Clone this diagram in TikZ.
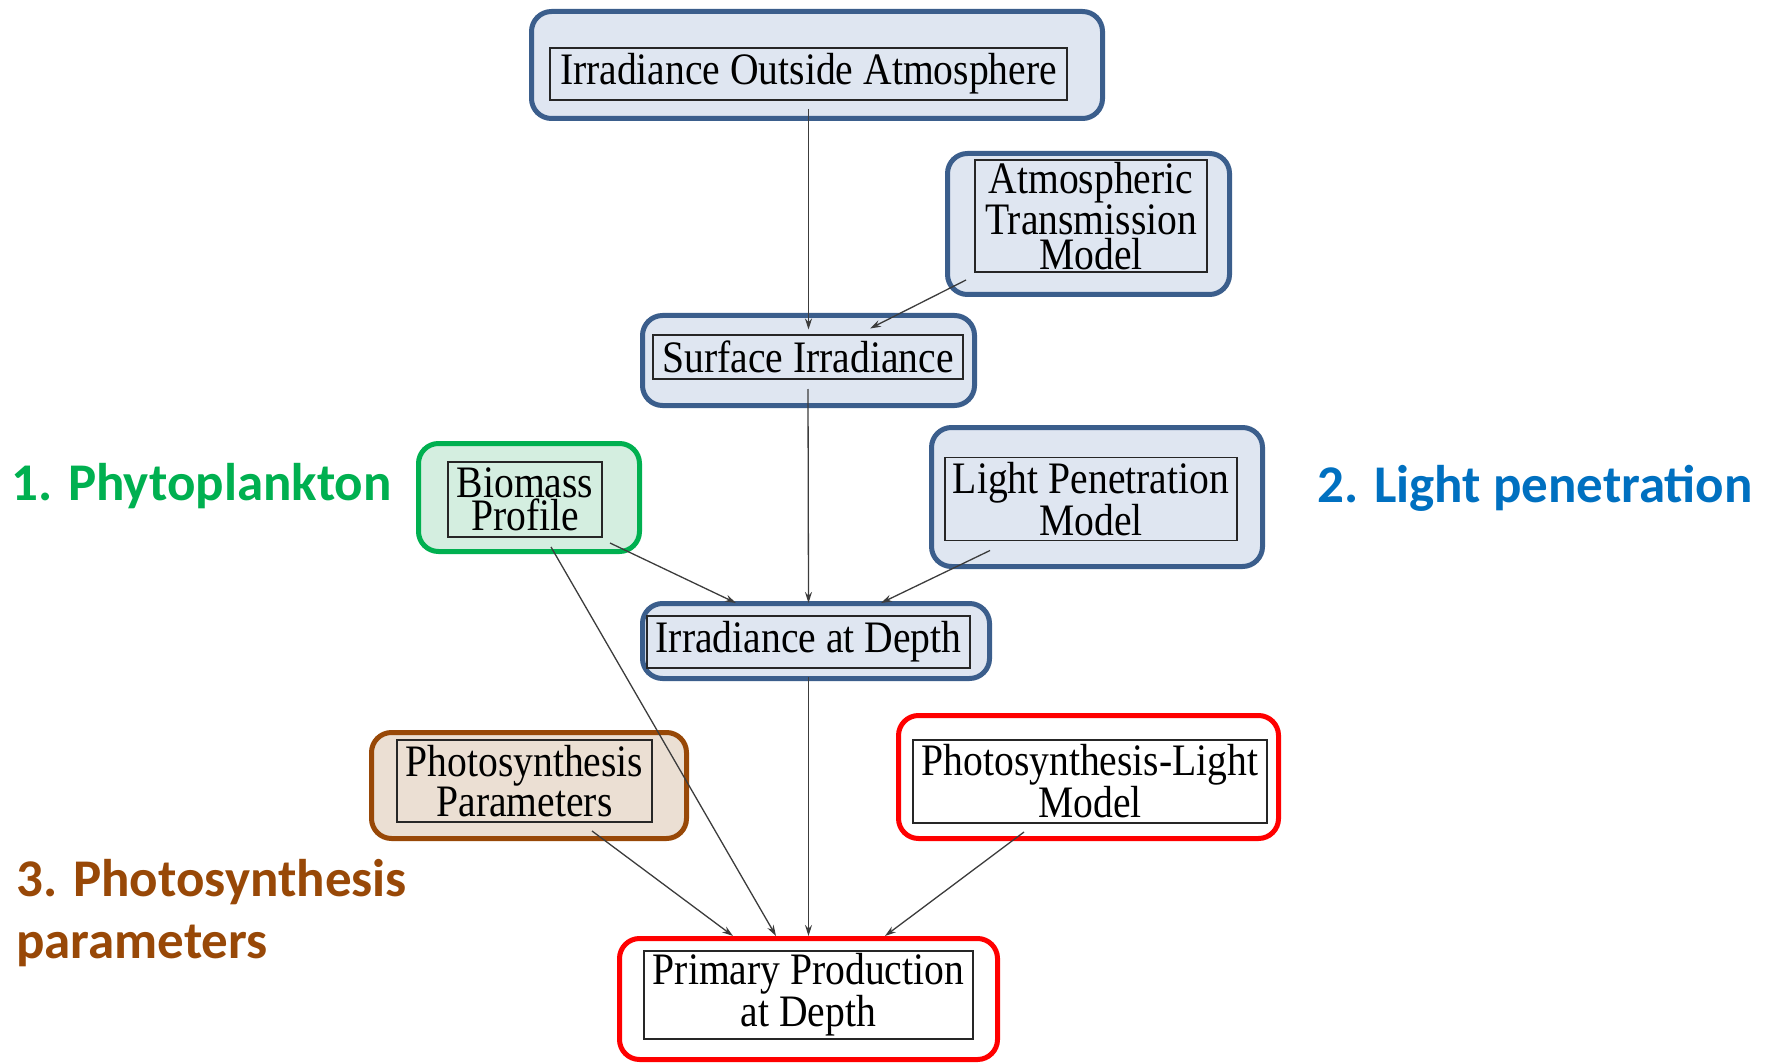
\documentclass[tikz,border=0pt]{standalone}
\usepackage{fontspec}
\setmainfont{Liberation Serif}
\newfontfamily\boxfont[FakeStretch=0.88]{Liberation Serif}
\newfontfamily\lblfont{Carlito}
\usetikzlibrary{arrows.meta}
\definecolor{bblue}{RGB}{59,94,140}
\definecolor{bfill}{RGB}{223,230,241}
\definecolor{ggreen}{RGB}{0,176,80}
\definecolor{gfill}{RGB}{212,238,224}
\definecolor{brn}{RGB}{152,72,7}
\definecolor{brfill}{RGB}{235,223,211}
\definecolor{lblue}{RGB}{0,112,192}
\definecolor{rred}{RGB}{255,0,0}
\definecolor{arrgray}{RGB}{60,60,60}
\begin{document}
\begin{tikzpicture}[x=1pt,y=-1pt,
  outerbox/.style={rounded corners=20pt, line width=5pt, inner sep=0pt, outer sep=0pt},
  blueout/.style={outerbox, draw=bblue, fill=bfill},
  greenout/.style={outerbox, draw=ggreen, fill=gfill},
  brownout/.style={outerbox, draw=brn, fill=brfill},
  redout/.style={outerbox, draw=rred, fill=white},
  inbox/.style={draw=black!85, line width=1.2pt, inner sep=0pt, outer sep=0pt, align=center,
    font=\boxfont\fontsize{45}{37}\selectfont},
  arr/.style={draw=arrgray, line width=1.3pt, -{Stealth[length=11pt,width=7pt]}},
  lbl/.style={anchor=base west, inner sep=0pt, font=\lblfont\bfseries\fontsize{53}{62}\selectfont}
]
\useasboundingbox (0,0) rectangle (1768,1064);

% outer highlight boxes
\node[blueout, minimum width=571pt, minimum height=107pt] (ioaO) at (817,65) {};
\node[blueout, minimum width=282pt, minimum height=141pt] (atmO) at (1088.5,224) {};
\node[blueout, minimum width=332pt, minimum height=90pt] (siO) at (808.5,360.5) {};
\node[greenout, minimum width=221pt, minimum height=108pt] (bioO) at (529,497.5) {};
\node[blueout, minimum width=331pt, minimum height=139pt] (lpmO) at (1097,497) {};
\node[blueout, minimum width=347pt, minimum height=75pt] (iadO) at (816,641) {};
\node[brownout, minimum width=315pt, minimum height=106pt] (ppO) at (529,785.5) {};
\node[redout, minimum width=380pt, minimum height=123pt] (plmO) at (1088.5,777) {};
\node[redout, minimum width=378pt, minimum height=121pt] (ppdO) at (808.5,999) {};

% inner boxes with text
\node[inbox, minimum width=517pt, minimum height=52pt] (ioaI) at (808.5,74) {Irradiance Outside Atmosphere};
\node[inbox, minimum width=232pt, minimum height=112pt, font=\boxfont\fontsize{45}{35}\selectfont] (atmI) at (1091,216) {Atmospheric\\Transmission\\Model};
\node[inbox, minimum width=310pt, minimum height=44pt] (siI) at (808,357) {Surface Irradiance};
\node[inbox, minimum width=154pt, minimum height=75pt, font=\boxfont\fontsize{45}{31}\selectfont] (bioI) at (525,499.5) {Biomass\\Profile};
\node[inbox, minimum width=292pt, minimum height=83pt, font=\boxfont\fontsize{45}{40}\selectfont] (lpmI) at (1091,499) {Light Penetration\\Model};
\node[inbox, minimum width=323pt, minimum height=52pt] (iadI) at (808.5,642) {Irradiance at Depth};
\node[inbox, minimum width=255pt, minimum height=82pt] (ppI) at (524.5,781) {Photosynthesis\\Parameters};
\node[inbox, minimum width=354pt, minimum height=83pt, fill=white] (plmI) at (1090,781.5) {Photosynthesis-Light\\Model};
\node[inbox, minimum width=329pt, minimum height=88pt, fill=white, font=\boxfont\fontsize{45}{40}\selectfont] (ppdI) at (808.5,995) {Primary Production\\at Depth};

% connectors
\draw[arr] ([yshift=-9pt]ioaI.south) -- ([yshift=-14pt]siO.north);
\draw[arr] ([xshift=-9pt,yshift=-8pt]atmI.south west) -- ([xshift=61.5pt,yshift=-13pt]siO.north);
\draw[arr] ([yshift=-10pt]siI.south) -- ([yshift=13pt]iadI.north);
\draw[arr] ([xshift=8pt,yshift=-6pt]bioI.south east) -- ([xshift=-72.5pt,yshift=13pt]iadI.north);
\draw[arr] ([xshift=-101pt,yshift=-10pt]lpmI.south) -- ([xshift=72.5pt,yshift=13pt]iadI.north);
\draw[arr] ([xshift=26pt,yshift=-10pt]bioI.south) -- ([xshift=-32.5pt,yshift=15pt]ppdI.north);
\draw[arr] ([yshift=-9pt]iadI.south) -- ([yshift=15pt]ppdI.north);
\draw[arr] ([xshift=67.5pt,yshift=-9pt]ppI.south) -- ([xshift=-75.5pt,yshift=15pt]ppdI.north);
\draw[arr] ([xshift=-66pt,yshift=-9pt]plmI.south) -- ([xshift=76.5pt,yshift=15pt]ppdI.north);

% category labels
\node[lbl, text=ggreen] (l1) at (11,500) {1. Phytoplankton};
\node[lbl, text=lblue] (l2) at (1317,502) {2. Light penetration};
\node[lbl, text=brn, align=left] (l3) at (16,958) {3. Photosynthesis\\parameters};
\end{tikzpicture}
\end{document}
